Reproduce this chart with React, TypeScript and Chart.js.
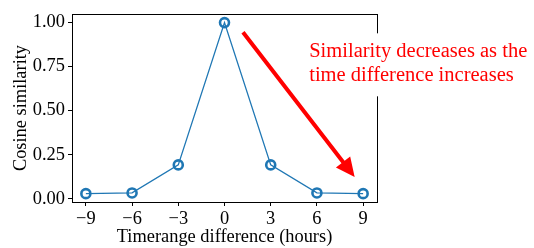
import React, { useEffect, useRef } from "react";
import { Chart, registerables } from "chart.js";

Chart.register(...registerables);

const xValues = [-9, -6, -3, 0, 3, 6, 9];
const similarity = [0.029, 0.033, 0.192, 1.0, 0.192, 0.033, 0.029];
const xTicks = [-9, -6, -3, 0, 3, 6, 9];
const yTicks = [0, 0.25, 0.5, 0.75, 1.0];
const annotationLines = ["Similarity decreases as the", "time difference increases"];
const arrowFrom = { x: 1.2, y: 0.945 };
const arrowTo = { x: 8.45, y: 0.123 };
const textAnchor = { x: 5.5, y: 0.905 };

const FONT = "'Liberation Serif', 'Times New Roman', serif";
const AXIS_FONT_SIZE = 18.4;

const framePlugin = {
  id: "frameAndAnnotation",
  afterDraw(chart: any) {
    const { ctx, chartArea } = chart;
    const xs = chart.scales.x;
    const ys = chart.scales.y;
    ctx.save();
    // frame
    ctx.strokeStyle = "#000";
    ctx.lineWidth = 1;
    ctx.strokeRect(
      Math.round(chartArea.left) + 0.5,
      Math.round(chartArea.top) + 0.5,
      Math.round(chartArea.right - chartArea.left),
      Math.round(chartArea.bottom - chartArea.top)
    );
    // arrow
    const x0 = xs.getPixelForValue(arrowFrom.x);
    const y0 = ys.getPixelForValue(arrowFrom.y);
    const x1 = xs.getPixelForValue(arrowTo.x);
    const y1 = ys.getPixelForValue(arrowTo.y);
    const dx = x1 - x0;
    const dy = y1 - y0;
    const len = Math.hypot(dx, dy);
    const ux = dx / len;
    const uy = dy / len;
    const px = -uy;
    const py = ux;
    const headLen = 19;
    const headHalf = 9;
    const shaftHalf = 2;
    const bx = x1 - ux * headLen;
    const by = y1 - uy * headLen;
    ctx.fillStyle = "#ff0000";
    ctx.beginPath();
    ctx.moveTo(x0 + px * shaftHalf, y0 + py * shaftHalf);
    ctx.lineTo(bx + px * shaftHalf, by + py * shaftHalf);
    ctx.lineTo(bx + px * headHalf, by + py * headHalf);
    ctx.lineTo(x1, y1);
    ctx.lineTo(bx - px * headHalf, by - py * headHalf);
    ctx.lineTo(bx - px * shaftHalf, by - py * shaftHalf);
    ctx.lineTo(x0 - px * shaftHalf, y0 - py * shaftHalf);
    ctx.closePath();
    ctx.fill();
    // text with white box
    const tx = xs.getPixelForValue(textAnchor.x);
    const ty = ys.getPixelForValue(textAnchor.y);
    ctx.font = `20.5px ${FONT}`;
    const lh = 24;
    const w = Math.max(...annotationLines.map((l) => ctx.measureText(l).width));
    ctx.fillStyle = "#fff";
    ctx.fillRect(tx - 4, ty - 6, w + 8, lh * annotationLines.length + 15);
    ctx.fillStyle = "#ff0000";
    ctx.textBaseline = "middle";
    ctx.textAlign = "left";
    annotationLines.forEach((l, i) => {
      ctx.fillText(l, tx, ty + lh / 2 + i * lh);
    });
    ctx.restore();
  },
};

export default function App() {
  const ref = useRef<HTMLCanvasElement | null>(null);
  useEffect(() => {
    if (!ref.current) return;
    const chart = new Chart(ref.current, {
      type: "line",
      data: {
        datasets: [
          {
            data: xValues.map((x, i) => ({ x, y: similarity[i] })),
            borderColor: "#1f77b4",
            borderWidth: 1.3,
            pointRadius: 4.5,
            pointBorderWidth: 2.6,
            pointBackgroundColor: "rgba(0,0,0,0)",
            pointBorderColor: "#1f77b4",
            tension: 0,
          },
        ],
      },
      options: {
        animation: false,
        responsive: false,
        events: [],
        layout: { padding: { left: 0, right: 157, top: 4, bottom: 0 } },
        plugins: { legend: { display: false }, tooltip: { enabled: false } },
        scales: {
          x: {
            type: "linear",
            min: -9.9,
            max: 9.9,
            afterBuildTicks: (s: any) => {
              s.ticks = xTicks.map((v) => ({ value: v }));
            },
            afterFit: (s: any) => {
              s.height = 46;
            },
            grid: { drawOnChartArea: false, tickLength: 4, color: "#000" },
            border: { color: "#000" },
            ticks: {
              color: "#000",
              padding: 2,
              maxRotation: 0,
              font: { family: FONT, size: AXIS_FONT_SIZE },
              callback: (v: any) => (Number(v) < 0 ? "\u2212" + Math.abs(Number(v)) : String(v)),
            },
            title: {
              display: true,
              text: "Timerange difference (hours)",
              color: "#000",
              font: { family: FONT, size: AXIS_FONT_SIZE },
              padding: { top: 0, bottom: 0 },
            },
          },
          y: {
            type: "linear",
            min: -0.0185,
            max: 1.0485,
            afterBuildTicks: (s: any) => {
              s.ticks = yTicks.map((v) => ({ value: v }));
            },
            afterFit: (s: any) => {
              s.width = 72;
            },
            grid: { drawOnChartArea: false, tickLength: 4, color: "#000" },
            border: { color: "#000" },
            ticks: {
              color: "#000",
              padding: 3,
              font: { family: FONT, size: AXIS_FONT_SIZE },
              callback: (v: any) => Number(v).toFixed(2),
            },
            title: {
              display: true,
              text: "Cosine similarity",
              color: "#000",
              font: { family: FONT, size: AXIS_FONT_SIZE },
              padding: { top: 10, bottom: 0 },
            },
          },
        },
      },
      plugins: [framePlugin],
    });
    return () => chart.destroy();
  }, []);
  return (
    <div style={{ position: "fixed", left: 0, top: 0, width: 534, height: 248, background: "#fff" }}>
      <canvas ref={ref} width={534} height={248} style={{ display: "block" }} />
    </div>
  );
}
